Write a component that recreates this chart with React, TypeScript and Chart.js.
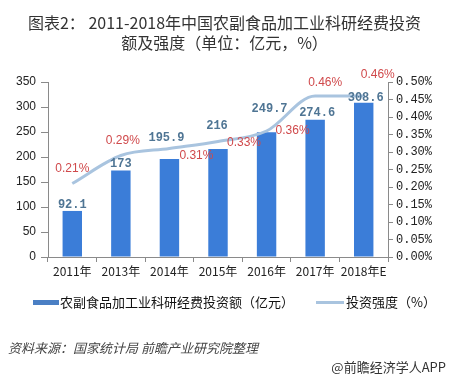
import React, { useEffect, useRef } from "react";
import { Chart, registerables } from "chart.js";

Chart.register(...registerables);

const categories = ["2011年", "2013年", "2014年", "2015年", "2016年", "2017年", "2018年E"];
const investment = [92.1, 173, 195.9, 216, 249.7, 274.6, 308.6];
const intensity = [0.21, 0.29, 0.31, 0.33, 0.36, 0.46, 0.46];
const investmentLabels = ["92.1", "173", "195.9", "216", "249.7", "274.6", "308.6"];
const intensityLabels = ["0.21%", "0.29%", "0.31%", "0.33%", "0.36%", "0.46%", "0.46%"];
const leftTicks = [0, 50, 100, 150, 200, 250, 300, 350];
const rightTicks = [0, 0.05, 0.1, 0.15, 0.2, 0.25, 0.3, 0.35, 0.4, 0.45, 0.5];

const barLabelOffsets = [[0, -6], [0, -7], [-3, -21], [-1, -23], [3, -23], [2, -7], [2, -5]];
const lineLabelOffsets = [[0, -15], [2, -15], [27, 7], [26, 1], [26, 0], [10, -13], [14, -21]];

const BAR = "#3b7dd8";
const LINE = "#a9c4df";

const labelPlugin = {
  id: "valueLabels",
  afterDatasetsDraw(chart: any) {
    const ctx = chart.ctx;
    ctx.save();
    ctx.textAlign = "center";
    ctx.textBaseline = "middle";
    const barMeta = chart.getDatasetMeta(0);
    ctx.font = "bold 12px 'Liberation Mono', 'DejaVu Sans Mono', monospace";
    ctx.fillStyle = "#4f7594";
    barMeta.data.forEach((el: any, i: number) => {
      const [dx, dy] = barLabelOffsets[i];
      ctx.fillText(investmentLabels[i], el.x + dx, el.y + dy);
    });
    const lineMeta = chart.getDatasetMeta(1);
    ctx.font = "12px 'Liberation Sans', Arial, sans-serif";
    ctx.fillStyle = "#d0494b";
    lineMeta.data.forEach((el: any, i: number) => {
      const [dx, dy] = lineLabelOffsets[i];
      ctx.fillText(intensityLabels[i], el.x + dx, el.y + dy);
    });
    ctx.restore();
  },
};

export default function App() {
  const ref = useRef<HTMLCanvasElement>(null);
  useEffect(() => {
    if (!ref.current) return;
    const chart = new Chart(ref.current, {
      type: "bar",
      data: {
        labels: categories,
        datasets: [
          {
            type: "bar",
            label: "农副食品加工业科研经费投资额（亿元）",
            data: investment,
            backgroundColor: BAR,
            barPercentage: 0.4,
            categoryPercentage: 1,
            yAxisID: "y",
            order: 2,
          },
          {
            type: "line",
            label: "投资强度（%）",
            data: intensity,
            borderColor: LINE,
            borderWidth: 3,
            pointRadius: 0,
            cubicInterpolationMode: "monotone",
            yAxisID: "y1",
            order: 1,
          } as any,
        ],
      },
      options: {
        responsive: false,
        animation: false,
        layout: { padding: { top: 82, left: 0, right: 0, bottom: 0 } },
        plugins: { legend: { display: false }, title: { display: false }, tooltip: { enabled: false } },
        scales: {
          x: {
            offset: true,
            grid: { display: true, drawOnChartArea: false, offset: true, tickLength: 5, color: "#8a8a8a" },
            border: { color: "#8a8a8a" },
            ticks: {
              color: "#222",
              font: { size: 12, family: "'Noto Sans CJK SC', sans-serif" },
              padding: 2,
              maxRotation: 0,
              autoSkip: false,
            },
            afterFit(scale: any) { scale.height = 120; },
          },
          y: {
            position: "left",
            min: 0,
            max: 350,
            afterBuildTicks(scale: any) { scale.ticks = leftTicks.map((v) => ({ value: v })); },
            grid: { display: true, drawOnChartArea: false, tickLength: 7, color: "#8a8a8a" },
            border: { color: "#8a8a8a" },
            ticks: {
              color: "#222",
              font: { size: 12, family: "'Liberation Sans', Arial, sans-serif" },
              padding: 5,
            },
            afterFit(scale: any) { scale.width = 48; },
          },
          y1: {
            position: "right",
            min: 0,
            max: 0.5,
            afterBuildTicks(scale: any) { scale.ticks = rightTicks.map((v) => ({ value: v })); },
            grid: { display: true, drawOnChartArea: false, tickLength: 5, color: "#8a8a8a" },
            border: { color: "#8a8a8a" },
            ticks: {
              color: "#222",
              font: { size: 12, family: "'Liberation Mono', 'DejaVu Sans Mono', monospace" },
              padding: 3,
              callback: (v: any) => Number(v).toFixed(2) + "%",
            },
            afterFit(scale: any) { scale.width = 61; },
          },
        },
      },
      plugins: [labelPlugin],
    });
    return () => chart.destroy();
  }, []);

  const cjk = "'Noto Sans CJK SC', sans-serif";
  return (
    <div style={{ position: "fixed", left: 0, top: 0, width: 449, height: 377, background: "#fff", overflow: "hidden", fontFamily: cjk }}>
      <canvas ref={ref} width={449} height={377} style={{ position: "absolute", left: 0, top: 0, width: 449, height: 377 }} />
      <div style={{ position: "absolute", left: 0, top: 12, width: 449, textAlign: "center", fontSize: 16, lineHeight: "20px", color: "#333" }}>
        <div>图表2： 2011-2018年中国农副食品加工业科研经费投资</div>
        <div>额及强度（单位：亿元，%）</div>
      </div>
      <div style={{ position: "absolute", left: 33, top: 293, display: "flex", alignItems: "center", fontSize: 13, lineHeight: "18px", color: "#111", whiteSpace: "nowrap" }}>
        <span style={{ display: "inline-block", width: 26, height: 5, background: "#4a7fc4", marginRight: 1 }} />
        <span>农副食品加工业科研经费投资额（亿元）</span>
        <span style={{ display: "inline-block", width: 28, height: 3, background: LINE, marginLeft: 22, marginRight: 2 }} />
        <span>投资强度（%）</span>
      </div>
      <div style={{ position: "absolute", left: 8, top: 339, fontSize: 13, lineHeight: "18px", color: "#444", fontStyle: "italic", whiteSpace: "nowrap" }}>
        资料来源：国家统计局 前瞻产业研究院整理
      </div>
      <div style={{ position: "absolute", right: 3, top: 358, fontSize: 13, lineHeight: "18px", color: "#333", whiteSpace: "nowrap" }}>
        @前瞻经济学人APP
      </div>
    </div>
  );
}
